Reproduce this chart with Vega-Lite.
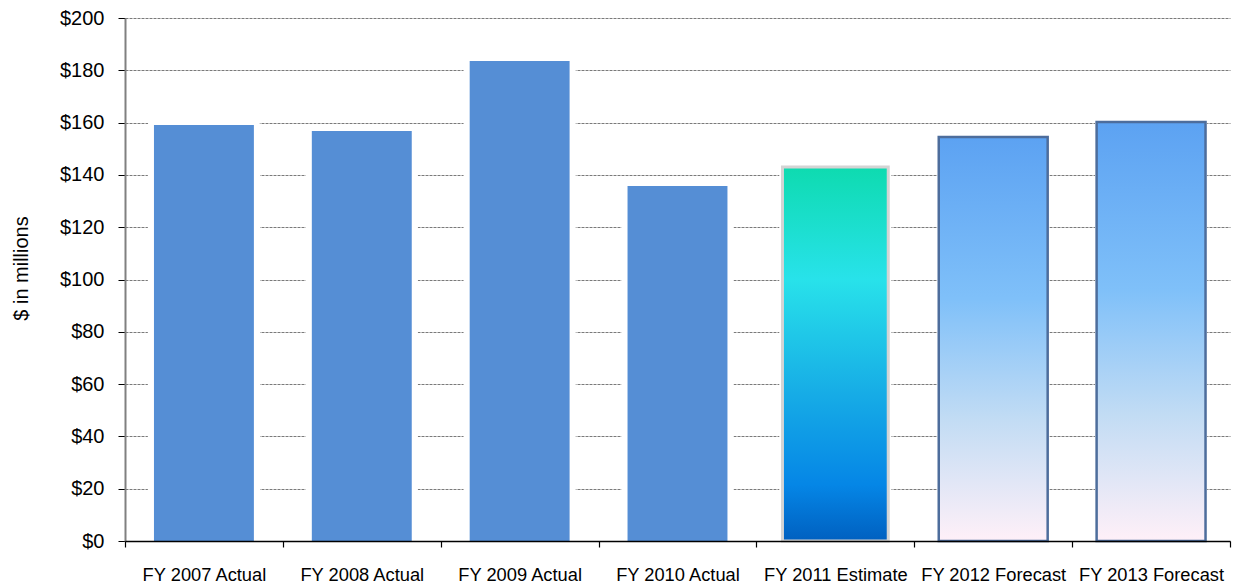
{
  "$schema": "https://vega.github.io/schema/vega-lite/v6.json",
  "width": 1105,
  "height": 523,
  "autosize": {"type": "none"},
  "padding": {"left": 125, "top": 18, "right": 5, "bottom": 44},
  "background": "white",
  "config": {
    "view": {"stroke": null},
    "font": "Liberation Sans"
  },
  "data": {
    "values": [
      {"year": "FY 2007 Actual", "value": 159.1, "type": "Actual"},
      {"year": "FY 2008 Actual", "value": 156.8, "type": "Actual"},
      {"year": "FY 2009 Actual", "value": 183.6, "type": "Actual"},
      {"year": "FY 2010 Actual", "value": 135.8, "type": "Actual"},
      {"year": "FY 2011 Estimate", "value": 143.0, "type": "Estimate"},
      {"year": "FY 2012 Forecast", "value": 154.5, "type": "Forecast"},
      {"year": "FY 2013 Forecast", "value": 160.2, "type": "Forecast"}
    ]
  },
  "encoding": {
    "x": {
      "field": "year",
      "type": "nominal",
      "sort": null,
      "scale": {"paddingInner": 0, "paddingOuter": 0},
      "axis": {
        "title": null,
        "labelAngle": 0,
        "labelFontSize": 18.3,
        "labelColor": "#000000",
        "labelFont": "Liberation Sans",
        "labelPadding": 19,
        "labelOverlap": false,
        "domainColor": "#000000",
        "domainWidth": 1.5,
        "tickColor": "#000000",
        "tickWidth": 1.2,
        "tickSize": 6,
        "tickBand": "extent",
        "zindex": 1
      }
    },
    "y": {
      "field": "value",
      "type": "quantitative",
      "scale": {"domain": [0, 200], "nice": false},
      "axis": {
        "title": "$ in millions",
        "titleFontSize": 20,
        "titleFontWeight": "normal",
        "titleFont": "Liberation Sans",
        "titleColor": "#000000",
        "titleX": -94,
        "titleY": 250,
        "values": [0, 20, 40, 60, 80, 100, 120, 140, 160, 180, 200],
        "format": "$,d",
        "labelFontSize": 20,
        "labelColor": "#000000",
        "labelFont": "Liberation Sans",
        "labelPadding": 14,
        "tickSize": 7,
        "tickColor": "#000000",
        "tickWidth": 1,
        "domainColor": "#808080",
        "domainWidth": 2,
        "grid": true,
        "gridColor": "#7a7a7a",
        "gridWidth": 1,
        "gridDash": [3, 1],
        "zindex": 0
      }
    }
  },
  "layer": [
    {
      "mark": {"type": "bar", "width": {"band": 0.66}, "fill": "white", "stroke": "white", "strokeWidth": 8, "strokeJoin": "round"},
      "encoding": {}
    },
    {
      "transform": [{"filter": "datum.type == 'Actual'"}],
      "mark": {"type": "bar", "width": {"band": 0.633}, "color": "#558ed5"},
      "encoding": {}
    },
    {
      "transform": [{"filter": "datum.type == 'Estimate'"}],
      "mark": {
        "type": "bar",
        "width": {"band": 0.67},
        "stroke": "#d4d4d4",
        "strokeWidth": 3,
        "color": {
          "gradient": "linear",
          "x1": 0, "y1": 0, "x2": 0, "y2": 1,
          "stops": [
            {"offset": 0, "color": "#0edbb0"},
            {"offset": 0.3, "color": "#28e2ea"},
            {"offset": 0.6, "color": "#17ade6"},
            {"offset": 0.85, "color": "#0586e6"},
            {"offset": 1, "color": "#0060c0"}
          ]
        }
      },
      "encoding": {}
    },
    {
      "transform": [{"filter": "datum.type == 'Forecast'"}],
      "mark": {
        "type": "bar",
        "width": {"band": 0.69},
        "stroke": "#4d6d9c",
        "strokeWidth": 2.5,
        "color": {
          "gradient": "linear",
          "x1": 0, "y1": 0, "x2": 0, "y2": 1,
          "stops": [
            {"offset": 0, "color": "#5ca2f2"},
            {"offset": 0.4, "color": "#7fc0f9"},
            {"offset": 0.7, "color": "#c2dcf4"},
            {"offset": 1, "color": "#fff0f8"}
          ]
        }
      },
      "encoding": {}
    }
  ]
}
